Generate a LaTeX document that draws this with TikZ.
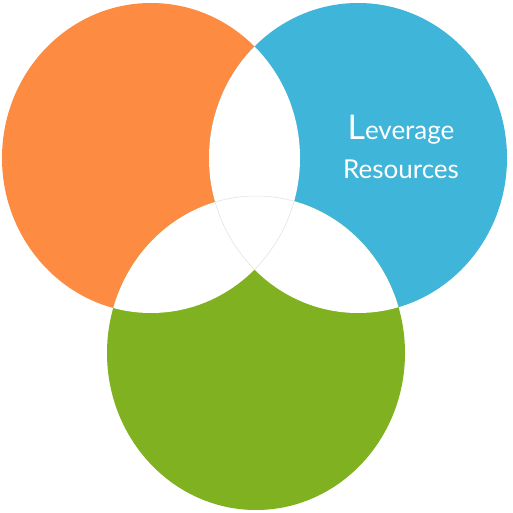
\documentclass[tikz,border=0pt]{standalone}
\usepackage{fontspec}
\setmainfont{Lato}
\definecolor{vorange}{RGB}{253,139,66}
\definecolor{vblue}{RGB}{64,181,218}
\definecolor{vgreen}{RGB}{128,177,32}
\begin{document}
\begin{tikzpicture}[x=1pt,y=-1pt,
  lbl/.style={text=white,inner sep=0pt,anchor=base,font=\fontsize{26}{26}\selectfont},
  faint/.style={draw=black!12,line width=0.5pt}]
\def\orangepath{(151,158) ellipse [x radius=149pt, y radius=155pt]}
\def\bluepath{(358,158) ellipse [x radius=149pt, y radius=155pt]}
\def\greenpath{(256,353) ellipse [x radius=149pt, y radius=157pt]}
\fill[white] (0,0) rectangle (513,513);
\useasboundingbox (0,0) rectangle (513,513);
\fill[vorange] \orangepath;
\fill[vblue] \bluepath;
\fill[vgreen] \greenpath;
\begin{scope}
  \clip \orangepath;
  \fill[white] \bluepath;
  \fill[white] \greenpath;
\end{scope}
\begin{scope}
  \clip \bluepath;
  \fill[white] \greenpath;
\end{scope}
% faint outline of the triple overlap
\begin{scope}
  \clip \orangepath; \clip \bluepath;
  \draw[faint] \greenpath;
\end{scope}
\begin{scope}
  \clip \orangepath; \clip \greenpath;
  \draw[faint] \bluepath;
\end{scope}
\begin{scope}
  \clip \bluepath; \clip \greenpath;
  \draw[faint] \orangepath;
\end{scope}
\node[lbl] (lev) at (401,140) {{\fontsize{34}{34}\selectfont L}everage};
\node[lbl] (res) at (401,178) {Resources};
\end{tikzpicture}
\end{document}
